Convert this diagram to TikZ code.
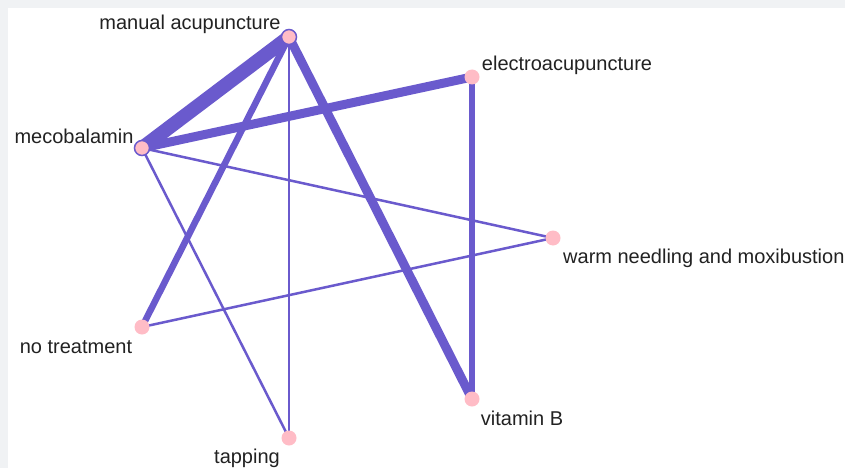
\documentclass[tikz,border=0pt]{standalone}
\usepackage{fontspec}
\setmainfont{Liberation Sans}
\usetikzlibrary{backgrounds}
\definecolor{edge-blue}{RGB}{106, 90, 205}
\definecolor{node-pink}{RGB}{255, 188, 198}
\definecolor{frame-grey}{RGB}{240, 242, 244}
\definecolor{label-grey}{RGB}{34, 34, 34}

\begin{document}
\begin{tikzpicture}[x=1pt,y=-1pt,
    dot/.style={circle, fill=node-pink, minimum size=15pt, inner sep=0pt},
    ringdot/.style={dot, draw=edge-blue, line width=1.5pt},
    lab/.style={text=label-grey, font=\fontsize{20}{22}\selectfont, inner sep=0pt},
    link/.style={draw=edge-blue, line width=#1}]
\useasboundingbox (0,0) rectangle (845,468);
% treatments
\node[ringdot] (ma) at (289,37) {};
\node[dot] (ea) at (472,77) {};
\node[ringdot] (meco) at (142,148) {};
\node[dot] (wnm) at (553,238) {};
\node[dot] (nt) at (142,327) {};
\node[dot] (vb) at (472,399) {};
\node[dot] (tap) at (289,438) {};
% names
\node[lab] (ma-text) at (190,24) {manual acupuncture};
\node[lab] (ea-text) at (567,65) {electroacupuncture};
\node[lab] (meco-text) at (74,136) {mecobalamin};
\node[lab, anchor=west] (wnm-text) at (563,258) {warm needling and moxibustion};
\node[lab] (nt-text) at (76,347) {no treatment};
\node[lab] (vb-text) at (522,418) {vitamin B};
\node[lab] (tap-text) at (247,458) {tapping};
\begin{scope}[on background layer]
\fill[frame-grey] (0,0) rectangle (845,468);
\fill[white] (8,8) rectangle (845,468);
\draw[link=14pt] (ma.center) -- (meco.center);
\draw[link=9pt] (meco.center) -- (ea.center);
\draw[link=9pt] (ma.center) -- (vb.center);
\draw[link=6.5pt] (ea.center) -- (vb.center);
\draw[link=6.5pt] (ma.center) -- (nt.center);
\draw[link=2.5pt] (ma.center) -- (tap.center);
\draw[link=2.5pt] (meco.center) -- (wnm.center);
\draw[link=2.5pt] (meco.center) -- (tap.center);
\draw[link=2.5pt] (nt.center) -- (wnm.center);
\end{scope}
\end{tikzpicture}
\end{document}
